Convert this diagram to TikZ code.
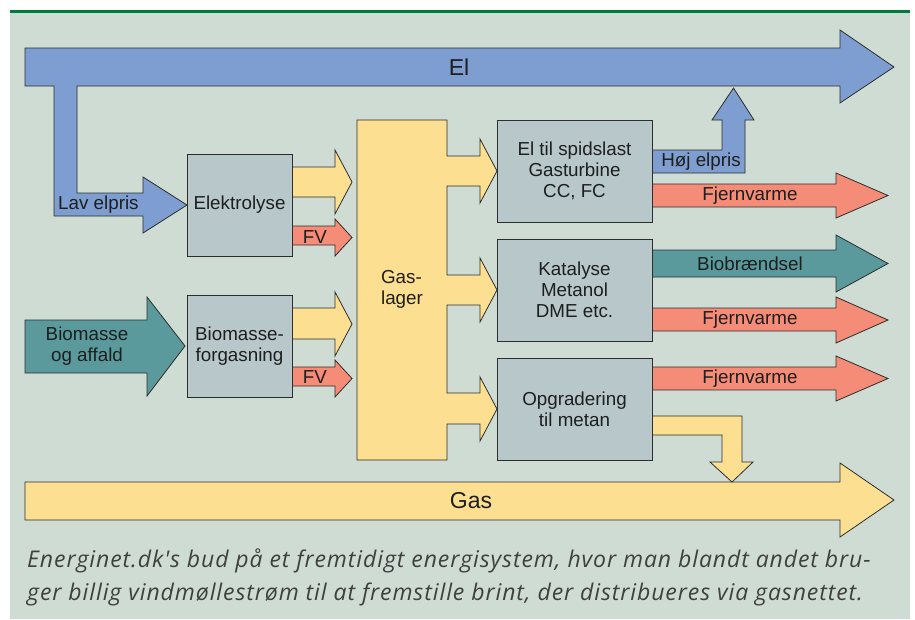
\documentclass[tikz,border=0pt]{standalone}
\usepackage{fontspec}
\setmainfont{Liberation Sans}
\newfontfamily\capfont[Ligatures=NoCommon,LetterSpace=4]{Open Sans}
\usetikzlibrary{positioning}
\definecolor{bg}{RGB}{207,220,211}
\definecolor{elblue}{RGB}{126,158,210}
\definecolor{gasyellow}{RGB}{253,223,146}
\definecolor{boxgray}{RGB}{184,200,202}
\definecolor{fvred}{RGB}{245,140,119}
\definecolor{bioteal}{RGB}{90,154,156}
\definecolor{topgreen}{RGB}{0,125,60}
\definecolor{edge}{RGB}{45,45,45}
\definecolor{txt}{RGB}{30,30,30}
\newcommand{\flowfont}{\fontsize{18.8}{21}\selectfont}
\tikzset{
block/.style={
  draw=edge,
  fill=boxgray,
  rectangle,
  align=center,
  minimum width=105pt,
  minimum height=102pt,
  inner sep=0pt,
  outer sep=0pt,
  line width=0.8pt,
  font=\flowfont,
  text=txt
  },
flow/.style={draw=edge, line width=0.8pt, line join=miter},
lbl/.style={font=\flowfont, text=txt, inner sep=0pt}
}

\begin{document}
\begin{tikzpicture}[x=1pt,y=1pt,yscale=-1,xscale=1]
\useasboundingbox (0,0) rectangle (915,619);
\fill[white] (0,0) rectangle (915,619);
\fill[bg] (10,12) rectangle (910,619);
\draw[topgreen, line width=2.2pt] (10,11.5) -- (910,11.5);

% El and Gas
\draw[flow, fill=elblue] (25,48) -- (840,48) -- (840,30) -- (894,67) -- (840,103) -- (840,86) -- (77,86) -- (77,193) -- (143,193) -- (143,177) -- (187,205) -- (143,233) -- (143,216) -- (54,216) -- (54,86) -- (25,86) -- cycle;
\draw[flow, fill=gasyellow] (25,482) -- (840,482) -- (840,463) -- (894,500) -- (840,537) -- (840,520) -- (25,520) -- cycle;
\draw[flow, fill=bioteal] (25,320) -- (147,320) -- (147,297) -- (185,346) -- (147,396) -- (147,373) -- (25,373) -- cycle;

% outputs of the left blocks
\draw[flow, fill=gasyellow] (292,167) -- (335,167) -- (335,150) -- (352,182) -- (335,214) -- (335,197) -- (292,197) -- cycle;
\draw[flow, fill=fvred] (292,226) -- (335,226) -- (335,219) -- (352,237.5) -- (335,256) -- (335,245) -- (292,245) -- cycle;
\draw[flow, fill=gasyellow] (292,308) -- (335,308) -- (335,292) -- (352,324) -- (335,356) -- (335,339) -- (292,339) -- cycle;
\draw[flow, fill=fvred] (292,367) -- (335,367) -- (335,360) -- (352,378.5) -- (335,397) -- (335,386) -- (292,386) -- cycle;

% Gaslager
\draw[flow, fill=gasyellow] (357,120) -- (447,120) -- (447,156) -- (480,156) -- (480,139) -- (497,171) -- (480,203) -- (480,186) -- (447,186)
  -- (447,275) -- (480,275) -- (480,258) -- (497,290) -- (480,322) -- (480,305) -- (447,305)
  -- (447,393) -- (480,393) -- (480,377) -- (497,409) -- (480,441) -- (480,424) -- (447,424)
  -- (447,460) -- (357,460) -- cycle;

% outputs of the right blocks
\draw[flow, fill=elblue] (652,150) -- (722,150) -- (722,120) -- (712,120) -- (733.5,88) -- (754,120) -- (745,120) -- (745,173) -- (652,173) -- cycle;
\draw[flow, fill=fvred] (652,184) -- (836,184) -- (836,173) -- (888,195.5) -- (836,218) -- (836,207) -- (652,207) -- cycle;
\draw[flow, fill=bioteal] (652,250) -- (836,250) -- (836,235) -- (888,263.5) -- (836,292) -- (836,277) -- (652,277) -- cycle;
\draw[flow, fill=fvred] (652,308) -- (836,308) -- (836,297) -- (888,320) -- (836,343) -- (836,331) -- (652,331) -- cycle;
\draw[flow, fill=fvred] (652,367) -- (836,367) -- (836,356) -- (888,378.5) -- (836,401) -- (836,390) -- (652,390) -- cycle;
\draw[flow, fill=gasyellow] (652,416) -- (742,416) -- (742,462) -- (753,462) -- (732,482) -- (710,462) -- (722,462) -- (722,435) -- (652,435) -- cycle;

% blocks
\node[block] (elektrolyse) at (239.5,205) {Elektrolyse};
\node[block] (forgasning) at (239.5,346) {Biomasse-\\forgasning};
\node[block, minimum width=155pt] (spidslast) at (574.5,171) {El til spidslast\\Gasturbine\\CC, FC};
\node[block, minimum width=155pt] (katalyse) at (574.5,290) {Katalyse\\Metanol\\DME etc.};
\node[block, minimum width=155pt] (metan) at (574.5,409) {Opgradering\\til metan};

% labels
\node[lbl, font=\fontsize{23}{26}\selectfont] (el) at (459,67) {El};
\node[lbl, font=\fontsize{23}{26}\selectfont] (gas) at (471,501) {Gas};
\node[lbl, anchor=west] (lav) at (58,205) {Lav elpris};
\node[lbl, align=left] (lager) at (402,289) {Gas-\\lager};
\node[lbl, align=center] (biomasse) at (87,346) {Biomasse\\og affald};
\node[lbl] (fv1) at (315,237) {FV};
\node[lbl] (fv2) at (315,377) {FV};
\node[lbl] (hoej) at (701,162) {Høj elpris};
\node[lbl] (fjern1) at (750,195.5) {Fjernvarme};
\node[lbl] (biobr) at (750,263.5) {Biobrændsel};
\node[lbl] (fjern2) at (750,320) {Fjernvarme};
\node[lbl] (fjern3) at (750,378.5) {Fjernvarme};

% caption (base = last line)
\node[anchor=base west, align=left, inner sep=0pt, text=txt!85!white,
  font=\capfont\itshape\fontsize{23}{33}\selectfont] (caption) at (27,600)
  {Energinet.dk's bud på et fremtidigt energisystem, hvor man blandt andet bru-\\
   ger billig vindmøllestrøm til at fremstille brint, der distribueres via gasnettet.};

\end{tikzpicture}
\end{document}
